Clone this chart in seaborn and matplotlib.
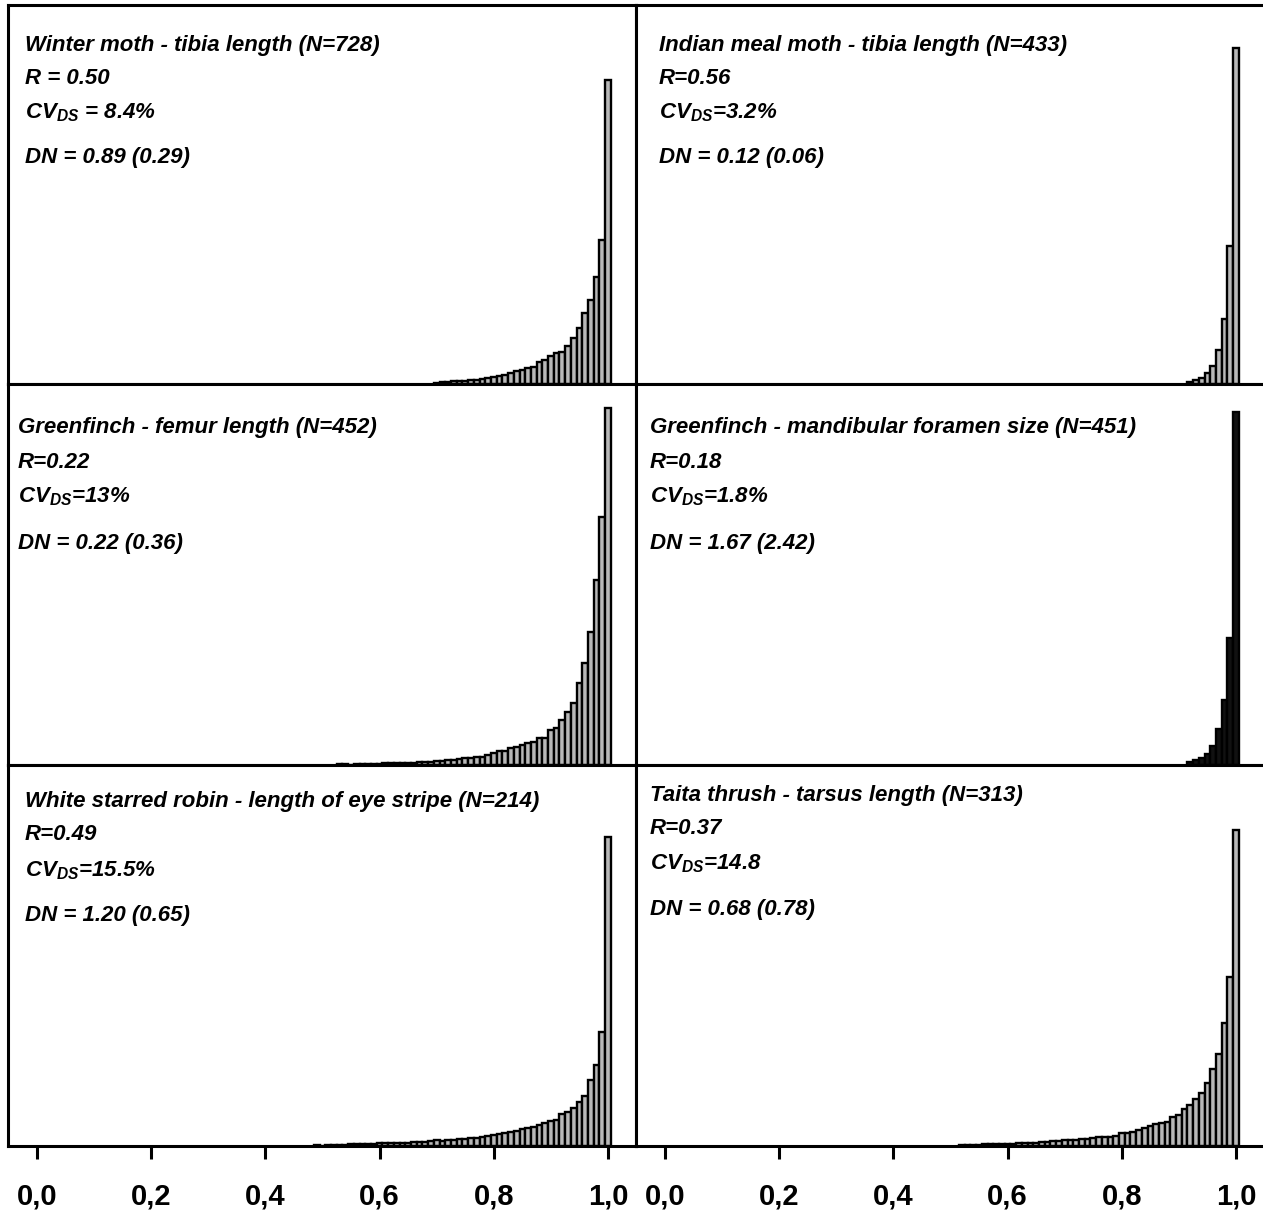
import numpy as np
import pandas as pd
import matplotlib
matplotlib.use("Agg")
import matplotlib.pyplot as plt
import seaborn as sns
from matplotlib import font_manager

# ── Data: bin heights (0.01 wide bins, centred on start .. 1.00) ──
winter_start = 0.70
winter_heights = [1, 2, 2, 3, 3, 3, 4, 4, 5, 6, 7, 8, 9, 11, 13, 14, 16, 17, 22, 24,
                  28, 31, 32, 38, 46, 56, 71, 84, 107, 144, 304]

meal_start = 0.92
meal_heights = [2, 4, 6, 11, 18, 34, 65, 138, 336]

femur_start = 0.53
femur_heights = [1, 1, 0, 1, 1, 1, 1, 1,
                 2, 2, 2, 2, 2, 2, 3, 3, 3, 4,
                 4, 5, 5, 6, 7, 7, 8, 8, 10, 12,
                 14, 14, 17, 18, 20, 22, 23, 27, 27, 35,
                 37, 45, 53, 62, 82, 102, 133, 185, 248, 357]

foramen_start = 0.92
foramen_heights = [3, 5, 7, 11, 19, 36, 65, 127, 353]

robin_start = 0.49
robin_heights = [1, 0,
                 1, 1, 1, 1, 2, 2, 2, 2, 2, 3,
                 3, 3, 3, 3, 3, 4, 4, 4, 5, 6,
                 5, 6, 6, 7, 7, 8, 8, 9, 10, 11,
                 12, 13, 14, 15, 17, 18, 19, 21, 23, 25,
                 26, 32, 34, 38, 44, 50, 66, 81, 114, 309]

thrush_start = 0.52
thrush_heights = [1, 1, 1, 1, 2, 2, 2, 2, 2,
                  2, 3, 3, 3, 3, 4, 4, 5, 5, 6,
                  6, 6, 7, 7, 8, 9, 9, 9, 10, 13,
                  13, 14, 16, 18, 20, 22, 23, 24, 29, 31,
                  37, 41, 47, 53, 63, 77, 92, 123, 169, 316]

titles = [
    "Winter moth - tibia length (N=728)",
    "Indian meal moth - tibia length (N=433)",
    "Greenfinch - femur length (N=452)",
    "Greenfinch - mandibular foramen size (N=451)",
    "White starred robin - length of eye stripe (N=214)",
    "Taita thrush - tarsus length (N=313)",
]
r_labels = ["R = 0.50", "R=0.56", "R=0.22", "R=0.18", "R=0.49", "R=0.37"]
cv_labels = ["CV$_{\\mathregular{DS}}$ = 8.4%", "CV$_{\\mathregular{DS}}$=3.2%",
             "CV$_{\\mathregular{DS}}$=13%", "CV$_{\\mathregular{DS}}$=1.8%",
             "CV$_{\\mathregular{DS}}$=15.5%", "CV$_{\\mathregular{DS}}$=14.8"]
dn_labels = ["DN = 0.89 (0.29)", "DN = 0.12 (0.06)", "DN = 0.22 (0.36)",
             "DN = 1.67 (2.42)", "DN = 1.20 (0.65)", "DN = 0.68 (0.78)"]

tick_values = [0.0, 0.2, 0.4, 0.6, 0.8, 1.0]
tick_labels = ["0,0", "0,2", "0,4", "0,6", "0,8", "1,0"]

panels = [
    (winter_start, winter_heights, "#b8b8b8"),
    (meal_start, meal_heights, "#b8b8b8"),
    (femur_start, femur_heights, "#b8b8b8"),
    (foramen_start, foramen_heights, "#111111"),
    (robin_start, robin_heights, "#b8b8b8"),
    (thrush_start, thrush_heights, "#b8b8b8"),
]

# ── Style ──
sns.set_style("white")
names = {f.name for f in font_manager.fontManager.ttflist}
narrow = "Liberation Sans Narrow" in names
font = "Liberation Sans Narrow" if narrow else "Liberation Sans"
plt.rcParams["font.family"] = [font, "DejaVu Sans"]
plt.rcParams["text.color"] = "black"
plt.rcParams["xtick.color"] = "black"
text_size = 17.5 if narrow else 16
tick_size = 25 if narrow else 21

W, H = 1263, 1211
fig = plt.figure(figsize=(W / 100, H / 100), dpi=100)

# pixel boxes
col_x = [(8, 636), (636, 1263)]
row_y = [(5, 384), (384, 765), (765, 1146)]
text_x = [17, 23, 10, 14, 17, 14]
text_y = [[40, 73, 108, 153], [40, 73, 108, 153],
          [43, 78, 113, 159], [43, 78, 113, 159],
          [36, 70, 106, 151], [30, 64, 99, 145]]

for i, (start, heights, fill) in enumerate(panels):
    r, c = divmod(i, 2)
    x0, x1 = col_x[c]
    y0, y1 = row_y[r]
    ax = fig.add_axes([x0 / W, 1 - y1 / H, (x1 - x0) / W, (y1 - y0) / H])

    n = len(heights)
    df = pd.DataFrame({"value": np.round(start + 0.01 * np.arange(n), 2),
                       "height": heights})
    sns.histplot(data=df, x="value", weights="height", binwidth=0.01,
                 binrange=(start - 0.005, 1.005), ax=ax,
                 color=fill, edgecolor="black", linewidth=1.7, alpha=1)

    ax.set_xlim(-0.0508, -0.0508 + (x1 - x0) / 571)
    ax.set_ylim(0, y1 - y0)
    ax.set_xlabel("")
    ax.set_ylabel("")
    ax.set_yticks([])

    for side in ["top", "bottom", "left", "right"]:
        ax.spines[side].set_linewidth(2.2)
        ax.spines[side].set_color("black")
    if c == 1:
        ax.spines["right"].set_visible(False)

    if r == 2:
        ax.set_xticks(tick_values)
        ax.set_xticklabels(tick_labels, fontsize=tick_size, fontweight="bold")
        ax.tick_params(axis="x", direction="out", length=9, width=2.2, pad=17,
                       bottom=True)
    else:
        ax.set_xticks([])

    ph = y1 - y0
    lines = [titles[i], r_labels[i], cv_labels[i], dn_labels[i]]
    for txt, ty in zip(lines, text_y[i]):
        ax.text(text_x[i] / (x1 - x0), 1 - ty / ph, txt, transform=ax.transAxes,
                fontsize=text_size, fontweight="bold", fontstyle="italic",
                ha="left", va="center")

fig.savefig("out.png", dpi=100)
